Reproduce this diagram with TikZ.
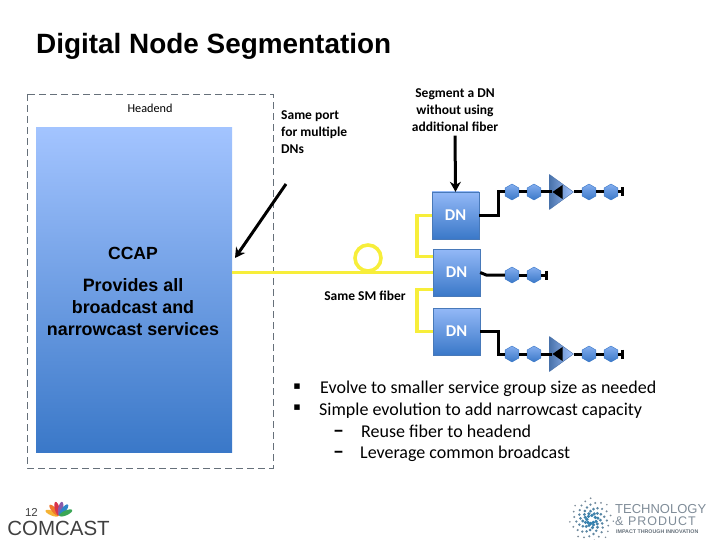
\documentclass[tikz,border=0pt]{standalone}
\usepackage{fontspec}
\setmainfont{Liberation Sans}
\newfontfamily\califont{Carlito}
\newfontfamily\symfont{DejaVu Sans}
\usetikzlibrary{arrows.meta, shapes.geometric}

\definecolor{fiberyellow}{HTML}{F7EE3A}
\definecolor{boxtop}{HTML}{A3C4FF}
\definecolor{boxbottom}{HTML}{3A78C8}
\definecolor{ampblue}{HTML}{5B8FD6}
\definecolor{logogrey}{HTML}{7F8C98}
\definecolor{logoblue}{HTML}{2F7FB0}
\definecolor{featherone}{HTML}{F5B335}
\definecolor{feathertwo}{HTML}{F0782C}
\definecolor{featherthree}{HTML}{D8344A}
\definecolor{featherfour}{HTML}{8A5AA8}
\definecolor{featherfive}{HTML}{2E86C8}
\definecolor{feathersix}{HTML}{3AA655}

\tikzset{
    dnbox/.style={draw=boxbottom!80!gray, thin, top color=boxtop!85!boxbottom, bottom color=boxbottom, minimum width=47pt, minimum height=47pt, inner sep=0pt, text=white, font=\califont\bfseries\fontsize{16.5}{20}\selectfont},
    fiber/.style={draw=fiberyellow, line width=3.6pt},
    coax/.style={draw=black, line width=3pt},
    pointer/.style={-{Stealth[length=10pt,width=11pt]}, line width=3pt},
    taphex/.style={regular polygon, regular polygon sides=6, shape border rotate=30, draw=boxbottom, thin, top color=boxtop!70!boxbottom, bottom color=boxbottom, minimum size=16pt, inner sep=0pt},
    amptri/.style={isosceles triangle, isosceles triangle stretches, draw=ampblue!80!black, thin, left color=ampblue!80!black, right color=boxtop, minimum width=35pt, minimum height=24pt, inner sep=0pt, anchor=apex},
    ampin/.style={isosceles triangle, isosceles triangle stretches, shape border rotate=180, fill=black, minimum width=14pt, minimum height=10pt, inner sep=0pt, anchor=apex},
    notetext/.style={inner sep=0pt, font=\califont\bfseries\fontsize{13.5}{17}\selectfont},
    bullettext/.style={anchor=base west, inner sep=0pt, font=\califont\fontsize{18}{20}\selectfont},
    bulletmark/.style={inner sep=0pt, font=\symfont\fontsize{11}{13}\selectfont},
    dashmark/.style={anchor=base west, inner sep=0pt, font=\califont\bfseries\fontsize{22}{20}\selectfont},
}

\begin{document}
\begin{tikzpicture}[x=1pt, y=-1pt]
    \useasboundingbox (0,0) rectangle (720,540);

    \node[anchor=west, inner sep=0pt, font=\bfseries\fontsize{27.9}{30}\selectfont] (title) at (36,46) {Digital Node Segmentation};

    \draw[dash pattern=on 7pt off 4pt, draw=logogrey!80!black, line width=0.8pt] (27,94) rectangle (273,468);
    \node[inner sep=0pt, font=\califont\fontsize{12.2}{16}\selectfont] (headend) at (150,108) {Headend};
    \node[rectangle, top color=boxtop, bottom color=boxbottom, minimum width=196pt, minimum height=324pt, inner sep=0pt] (ccap) at (134,290) {};
    \node[inner sep=0pt, font=\bfseries\fontsize{17.6}{20}\selectfont] (ccaplabel) at (133,253) {CCAP};
    \node[align=center, inner sep=0pt, font=\bfseries\fontsize{17.9}{22}\selectfont] (services) at (133,307) {Provides all\\broadcast and\\narrowcast services};

    \node[dnbox] (dna) at (455.5,215.5) {DN};
    \node[dnbox] (dnb) at (456.5,272.5) {DN};
    \node[dnbox] (dnc) at (456.5,331.5) {DN};

    \node[notetext, align=left, anchor=north west] (sameport) at (281,110) {Same port\\for multiple\\DNs};
    \node[notetext, align=center] (segment) at (455,110) {Segment a DN\\without using\\additional fiber};
    \node[notetext] (samefiber) at (365,296) {Same SM fiber};

    \coordinate (portfrom) at (286,184);
    \coordinate (portto) at (235,258);
    \draw[pointer] (portfrom) -- (portto);
    \draw[pointer, shorten <=4pt] (segment.south) -- (dna.north);

    \node[circle, draw=fiberyellow, line width=3.6pt, minimum size=26pt, inner sep=0pt] (fiberloop) at (368,258) {};
    \draw[fiber] (dnb.west) -- (dnb.west -| ccap.east);
    \draw[fiber] (dna.west) -- ++(-15,0) |- ([yshift=16pt]dnb.west);
    \draw[fiber] ([yshift=-17pt]dnb.west) -- ++(-16,0) |- (dnc.west);

    \foreach \rowname/\rowy in {a/192, c/354} {
        \node[taphex] (tap\rowname1) at (512,\rowy) {};
        \node[taphex] (tap\rowname2) at (534,\rowy) {};
        \node[amptri] (amp\rowname) at (574,\rowy) {};
        \node[ampin] (ampin\rowname) at (552,\rowy) {};
        \node[taphex] (tap\rowname3) at (589,\rowy) {};
        \node[taphex] (tap\rowname4) at (611,\rowy) {};
        \coordinate (end\rowname) at (624,\rowy);
        \draw[coax] (tap\rowname1) -- (tap\rowname2);
        \draw[coax] (tap\rowname2) -- (ampin\rowname.apex);
        \draw[coax] (amp\rowname.apex) -- (tap\rowname3);
        \draw[coax] (tap\rowname3) -- (tap\rowname4);
        \draw[coax, -{Bar[width=9pt,length=3pt]}] (tap\rowname4) -- (end\rowname);
    }
    \node[taphex] (tapb1) at (512,275) {};
    \node[taphex] (tapb2) at (534,275) {};
    \coordinate (endb) at (547.5,275);
    \draw[coax] (tapb1) -- (tapb2);
    \draw[coax, -{Bar[width=9pt,length=3pt]}] (tapb2) -- (endb);

    \draw[coax] (dna.east) -- ++(19,0) |- (tapa1);
    \draw[coax] (dnb.east) -- ++(6,2.5) -- (tapb1);
    \draw[coax] (dnc.east) -- ++(18,0) |- (tapc1);

    \node[bulletmark] (bulleta) at (297,387) {▪};
    \node[bulletmark] (bulletb) at (297,408) {▪};
    \node[bullettext] (evolve) at (320,393) {Evolve to smaller service group size as needed};
    \node[bullettext] (simple) at (319,415) {Simple evolution to add narrowcast capacity};
    \node[dashmark] (dasha) at (333,437) {–};
    \node[dashmark] (dashb) at (333,458) {–};
    \node[bullettext] (reuse) at (361,437) {Reuse fiber to headend};
    \node[bullettext] (leverage) at (360,458) {Leverage common broadcast};

    \node[inner sep=0pt, text=black!75, font=\fontsize{11.5}{14}\selectfont] (pagenum) at (31.5,512) {12};
    \foreach \featherangle/\feathercolor in {68/featherone, 40/feathertwo, 14/featherthree, -12/featherfour, -38/featherfive, -66/feathersix} {
        \fill[\feathercolor, rotate around={\featherangle:(59,516)}] (59,508.5) ellipse (2.4pt and 7pt);
    }
    \node[inner sep=0pt, text=black!75, font=\fontsize{20.5}{22}\selectfont] (comcast) at (58.5,528.5) {COMCAST};

    \foreach \i in {1,...,70} {
        \pgfmathsetmacro{\dotang}{\i*47}
        \pgfmathsetmacro{\dotrad}{3+\i*0.28}
        \pgfmathsetmacro{\dotsize}{1.9-\i*0.015}
        \pgfmathsetmacro{\dotmix}{max(0,100-\i*1.6)}
        \fill[logoblue!\dotmix!logogrey] (591,520) ++(\dotang:\dotrad) circle (\dotsize pt);
    }
    \node[anchor=west, inner sep=0pt, text=logogrey, font=\fontsize{13}{14}\selectfont] (technology) at (615,509) {TECHNOLOGY};
    \node[anchor=west, inner sep=0pt, text=logogrey, font=\fontsize{12.5}{14}\selectfont\addfontfeature{LetterSpace=8}] (product) at (615,521) {\& PRODUCT};
    \node[anchor=west, inner sep=0pt, text=logogrey!80!black, font=\bfseries\fontsize{5.3}{6}\selectfont] (impact) at (616,532) {IMPACT THROUGH INNOVATION};
\end{tikzpicture}
\end{document}
